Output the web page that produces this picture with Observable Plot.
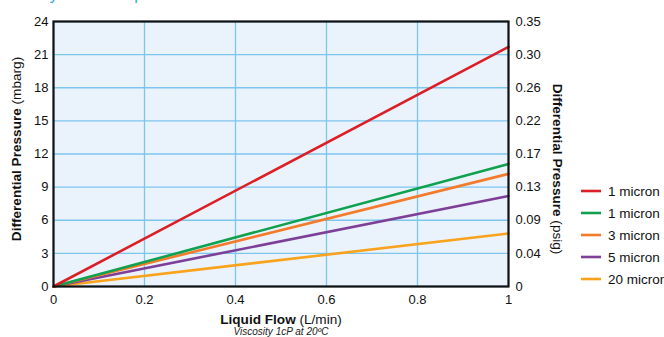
<!DOCTYPE html>
<html>
<head>
<meta charset="utf-8">
<script src="https://cdn.jsdelivr.net/npm/d3@7"></script>
<script src="https://cdn.jsdelivr.net/npm/@observablehq/plot@0.6"></script>
<style>
  html, body { margin: 0; padding: 0; background: #fff; }
  body { width: 664px; height: 337px; overflow: hidden; position: relative; font-family: Arial, "Liberation Sans", sans-serif; }
  #title { position: absolute; left: 0; top: -13px; font-size: 16px; line-height: 16px; color: #29abe2; white-space: nowrap; }
  #chart { position: absolute; left: 0; top: 0; }
</style>
</head>
<body>
<div id="title">Delivery Rate Comparison</div>
<div id="chart"></div>
<script>
// Data (Liquid flow L/min vs differential pressure mbarg)
const flow = [0, 1];
const seriesNames = ["1 micron", "1 micron", "3 micron", "5 micron", "20 micron"];
const red1 = [0, 21.7];
const green1 = [0, 11.1];
const orange3 = [0, 10.2];
const purple5 = [0, 8.2];
const yellow20 = [0, 4.8];
const seriesValues = [red1, green1, orange3, purple5, yellow20];
const seriesColors = ["#dc1f26", "#0fa14f", "#f47b2b", "#7d3f98", "#f9a21b"];
const xTicks = [0, 0.2, 0.4, 0.6, 0.8, 1];
const xTickLabels = ["0", "0.2", "0.4", "0.6", "0.8", "1"];
const yTicks = [0, 3, 6, 9, 12, 15, 18, 21, 24];
const psigLabels = ["0", "0.04", "0.09", "0.13", "0.17", "0.22", "0.26", "0.30", "0.35"];

const seriesData = seriesValues.map((vals, i) => flow.map((f, j) => ({flow: f, p: vals[j], s: i})));

const gridColor = "#7cc6ee";
const lineMarks = seriesData.slice().reverse().map((d) =>
  Plot.line(d, {x: "flow", y: "p", stroke: seriesColors[d[0].s], strokeWidth: 2.6})
);

const plot = Plot.plot({
  width: 664,
  height: 337,
  marginLeft: 53,
  marginRight: 156,
  marginTop: 21,
  marginBottom: 51,
  style: {fontFamily: "Arial, 'Liberation Sans', sans-serif", fontSize: "13px", color: "#111", background: "transparent"},
  x: {domain: [0, 1]},
  y: {domain: [0, 24]},
  marks: [
    Plot.frame({fill: "#eaf3fb", stroke: "none"}),
    Plot.gridX(xTicks, {stroke: gridColor, strokeOpacity: 1, strokeWidth: 1.3}),
    Plot.gridY(yTicks, {stroke: gridColor, strokeOpacity: 1, strokeWidth: 1.3}),
    Plot.axisX({ticks: xTicks, tickSize: 0, tickPadding: 8, tickFormat: (d) => xTickLabels[xTicks.indexOf(d)], label: null, fontSize: 13}),
    Plot.axisY({anchor: "left", ticks: yTicks, tickSize: 0, tickPadding: 5, label: null, fontSize: 13}),
    Plot.axisY({anchor: "right", ticks: yTicks, tickSize: 0, tickPadding: 7, tickFormat: (d) => psigLabels[yTicks.indexOf(d)], label: null, fontSize: 13}),
    ...lineMarks,
    Plot.frame({stroke: "#111", strokeWidth: 2.2})
  ]
});

document.getElementById("chart").appendChild(plot);

// Axis titles and legend (annotation text)
const svg = d3.select(plot);
const font = "Arial, 'Liberation Sans', sans-serif";

const left = svg.append("text")
  .attr("transform", "translate(21,149) rotate(-90)")
  .attr("text-anchor", "middle")
  .attr("font-family", font).attr("font-size", 13.6).attr("fill", "#111");
left.append("tspan").attr("font-weight", "bold").text("Differential Pressure");
left.append("tspan").text(" (mbarg)");

const right = svg.append("text")
  .attr("transform", "translate(553,169) rotate(90)")
  .attr("text-anchor", "middle")
  .attr("font-family", font).attr("font-size", 13.6).attr("fill", "#111");
right.append("tspan").attr("font-weight", "bold").text("Differential Pressure");
right.append("tspan").text(" (psig)");

const bottom = svg.append("text")
  .attr("x", 281).attr("y", 324)
  .attr("text-anchor", "middle")
  .attr("font-family", font).attr("font-size", 13.6).attr("fill", "#111");
bottom.append("tspan").attr("font-weight", "bold").text("Liquid Flow");
bottom.append("tspan").text(" (L/min)");

svg.append("text")
  .attr("x", 281).attr("y", 335)
  .attr("text-anchor", "middle")
  .attr("font-family", font).attr("font-size", 10).attr("font-style", "italic").attr("fill", "#222")
  .text("Viscosity 1cP at 20ºC");

const legend = svg.append("g").attr("font-family", font).attr("font-size", 13.5).attr("fill", "#111").attr("text-anchor", "start");
seriesNames.forEach((name, i) => {
  const y = 191 + i * 22;
  legend.append("line").attr("x1", 581).attr("x2", 601).attr("y1", y).attr("y2", y)
    .attr("stroke", seriesColors[i]).attr("stroke-width", 2.6);
  legend.append("text").attr("x", 608).attr("y", y + 4.5).attr("text-anchor", "start").text(name);
});
</script>
</body>
</html>
